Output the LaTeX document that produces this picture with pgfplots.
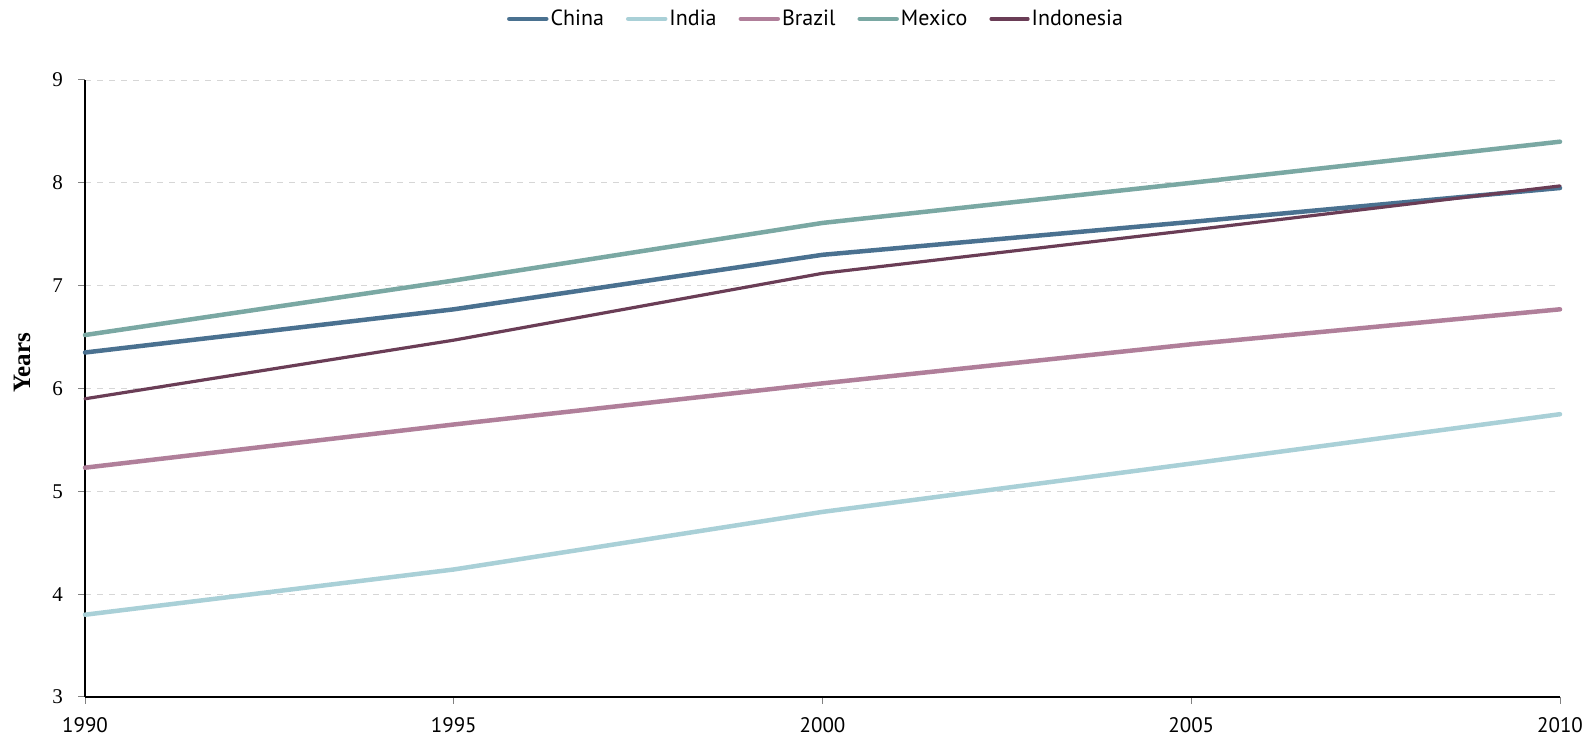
\documentclass[border=0pt]{standalone}
\usepackage{fontspec}
\setmainfont{Liberation Serif}
\newfontfamily\legfont{PT Sans}
\usepackage{pgfplots}
\pgfplotsset{compat=1.18}

\definecolor{cChina}{HTML}{4A7190}
\definecolor{cIndia}{HTML}{A9D0D7}
\definecolor{cBrazil}{HTML}{B07F9A}
\definecolor{cMexico}{HTML}{7AA8A3}
\definecolor{cIndonesia}{HTML}{6A3D56}
\definecolor{gridgray}{HTML}{D6D6D6}

\begin{document}
\begin{tikzpicture}
\path[use as bounding box] (0,0) rectangle (795.5pt,369.5pt);
\begin{axis}[
  at={(42.5pt,21pt)}, anchor=south west,
  scale only axis, width=737.5pt, height=308.5pt,
  xmin=1990, xmax=2010, ymin=3, ymax=9,
  xtick={1990,1995,2000,2005,2010},
  xticklabels={1990,1995,2000,2005,2010},
  ytick={3,4,5,6,7,8,9},
  axis lines=left,
  axis line style={-, black, line width=0.75pt},
  tick align=outside,
  major tick length=3.5pt,
  tick style={gray, line width=0.5pt},
  xtick pos=bottom, ytick pos=left,
  ymajorgrids,
  major grid style={gridgray, dashed, line width=0.4pt},
  /pgf/number format/assume math mode=true,
  yticklabel style={font=\fontsize{10.5}{12}\selectfont, xshift=-4pt},
  xticklabel style={font=\legfont\fontsize{10.5}{12}\selectfont, yshift=-3pt},
  ylabel={Years},
  every axis y label/.style={at={(rel axis cs:0,0.542)}, xshift=-31.5pt,
    rotate=90, anchor=center, font=\bfseries\fontsize{12.5}{14}\selectfont},
  legend columns=5,
  legend style={at={(0.4956,1.099)}, anchor=center, draw=none, fill=none,
    font=\legfont\fontsize{11}{13}\selectfont,
    /tikz/every even column/.append style={column sep=10pt},
    nodes={inner xsep=1pt}},
  legend image code/.code={\draw[#1] (0pt,0pt) -- (18.5pt,0pt);},
  every axis plot/.append style={line join=round, line cap=round},
  clip=false,
]
\addplot[cChina, line width=2.25pt] coordinates {
  (1990,6.35) (1995,6.77) (2000,7.30) (2005,7.62) (2010,7.95)};
\addlegendentry{China}
\addplot[cIndia, line width=2.25pt] coordinates {
  (1990,3.80) (1995,4.24) (2000,4.80) (2005,5.27) (2010,5.75)};
\addlegendentry{India}
\addplot[cBrazil, line width=2.25pt] coordinates {
  (1990,5.23) (1995,5.65) (2000,6.05) (2005,6.43) (2010,6.77)};
\addlegendentry{Brazil}
\addplot[cMexico, line width=2.25pt] coordinates {
  (1990,6.52) (1995,7.05) (2000,7.61) (2005,8.00) (2010,8.40)};
\addlegendentry{Mexico}
\addplot[cIndonesia, line width=1.6pt] coordinates {
  (1990,5.90) (1995,6.47) (2000,7.12) (2005,7.54) (2010,7.97)};
\addlegendentry{Indonesia}
\end{axis}
\end{tikzpicture}
\end{document}
